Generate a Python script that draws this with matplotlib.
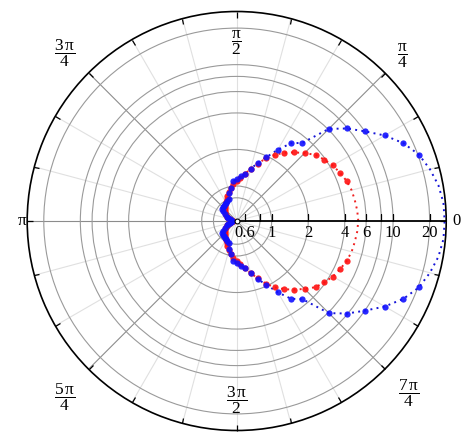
import numpy as np
import matplotlib.pyplot as plt

plt.rcParams['font.family'] = 'Liberation Serif'
plt.rcParams['mathtext.fontset'] = 'custom'
plt.rcParams['mathtext.rm'] = 'Liberation Serif'
plt.rcParams['mathtext.it'] = 'Liberation Serif:italic'

# upper half of both curves (degrees), lower half is the mirror image
winkel = [0, 5, 10, 15, 20, 25, 30, 35, 40, 45, 50, 55, 60, 65, 70, 75, 80, 85, 90,
          95, 100, 105, 110, 115, 120, 125, 130, 135, 140, 145, 150, 155, 160, 165,
          170, 175, 180]
r_rot = [5.17, 5.11, 5.01, 4.92, 4.74, 4.48, 4.23, 3.92, 3.63, 3.18, 2.82, 2.50, 2.20,
         1.91, 1.64, 1.43, 1.28, 1.16, 1.10, 1.04, 0.98, 0.91, 0.86, 0.81, 0.78, 0.75,
         0.73, 0.71, 0.69, 0.67, 0.65, 0.63, 0.61, 0.59, 0.58, 0.566, 0.556]
r_blau = [26.6, 26.4, 25.1, 22.9, 20.4, 16.9, 13.2, 10.0, 7.9, 6.1, 3.56, 3.12, 2.46,
          1.96, 1.67, 1.43, 1.28, 1.21, 1.14, 1.10, 0.98, 0.89, 0.81, 0.78, 0.77, 0.76,
          0.75, 0.75, 0.74, 0.71, 0.67, 0.63, 0.61, 0.59, 0.58, 0.566, 0.566]

r_gitter = [0.8, 1, 2, 4, 6, 8, 10, 20]
r_striche = [0.6, 0.8, 1, 2, 4, 6, 8, 10, 20]
r_beschriftung = [0.6, 1, 2, 4, 6, 10, 20]
rmin, rmax = 0.515, 27.4

w = np.array(winkel, dtype=float)
theta = np.deg2rad(np.concatenate([-w[:0:-1], w]))
rot = np.concatenate([np.array(r_rot)[:0:-1], r_rot])
blau = np.concatenate([np.array(r_blau)[:0:-1], r_blau])
gross = np.abs(np.rad2deg(theta)) >= 20

fig = plt.figure(figsize=(4.63, 4.34), dpi=100)
ax = fig.add_axes([27.2 / 463, 3.5 / 434, 419 / 463, 419 / 434], projection='polar')
ax.set_rscale('log')
ax.set_rlim(rmin, rmax)

ax.set_xticks(np.deg2rad([45, 135, 180, 225, 315]))
ax.set_xticks(np.deg2rad([a for a in range(0, 360, 15) if a not in (45, 135, 180, 225, 315)]),
              minor=True)
ax.set_xticklabels([])
ax.tick_params(axis='x', which='both', bottom=False, top=True, direction='in',
               length=4, width=0.9, color='k')
ax.xaxis.grid(True, which='major', color='#8c8c8c', lw=0.8)
ax.xaxis.grid(True, which='minor', color='#e0e0e0', lw=0.8)

ax.set_yticks(r_gitter)
ax.yaxis.set_minor_locator(plt.NullLocator())
ax.set_yticklabels([])
ax.tick_params(axis='y', length=0)
ax.yaxis.grid(True, color='#9a9a9a', lw=0.8)
ax.spines['polar'].set_color('k')
ax.spines['polar'].set_linewidth(1.2)

# dotted curves with the big markers
ax.plot(theta, rot, color='#f02020', ls=(0, (1, 2.2)), lw=1.4, zorder=3)
ax.plot(theta[gross], rot[gross], 'o', color='#ff1010', ms=4.5, mec='none', alpha=0.9, zorder=4)
ax.plot(theta, blau, color='#1515d8', ls=(0, (1, 2.2)), lw=1.4, zorder=3)
ax.plot(theta[gross], blau[gross], 'o', color='#1010ff', ms=4.5, mec='none', alpha=0.9, zorder=5)

# radial axis along 0
ax.plot([0, 0], [rmin, rmax], color='k', lw=1.3, zorder=6)
ax.plot(np.zeros(len(r_striche)), r_striche, ls='none', marker=2, ms=5, mew=0.9,
        color='k', zorder=6)
for r in r_beschriftung:
    ax.annotate(f'{r:g}', (0, r), xytext=(0, -3), textcoords='offset points',
                ha='center', va='top', fontsize=12, zorder=7)
ax.plot([0], [rmin], 'o', ms=3.5, mfc='white', mec='k', mew=0.8, zorder=7, clip_on=False)

# angle labels
def pix(x, y):
    return x / 463, 1 - y / 434

fig.text(*pix(452, 221), '0', ha='left', va='center', fontsize=12)
fig.text(*pix(27, 221), r'$\mathrm{\pi}$', ha='right', va='center', fontsize=12.5)
for txt, x, y in [(r'$\dfrac{\mathrm{\pi}}{2}$', 236.7, 43),
                  (r'$\dfrac{\mathrm{\pi}}{4}$', 402.7, 56),
                  (r'$\dfrac{3\,\mathrm{\pi}}{4}$', 65, 53),
                  (r'$\dfrac{5\,\mathrm{\pi}}{4}$', 65, 397),
                  (r'$\dfrac{3\,\mathrm{\pi}}{2}$', 236.7, 400),
                  (r'$\dfrac{7\,\mathrm{\pi}}{4}$', 409, 393)]:
    fig.text(*pix(x, y), txt, ha='center', va='center', fontsize=12.5)

plt.savefig('out.png', dpi=100)
